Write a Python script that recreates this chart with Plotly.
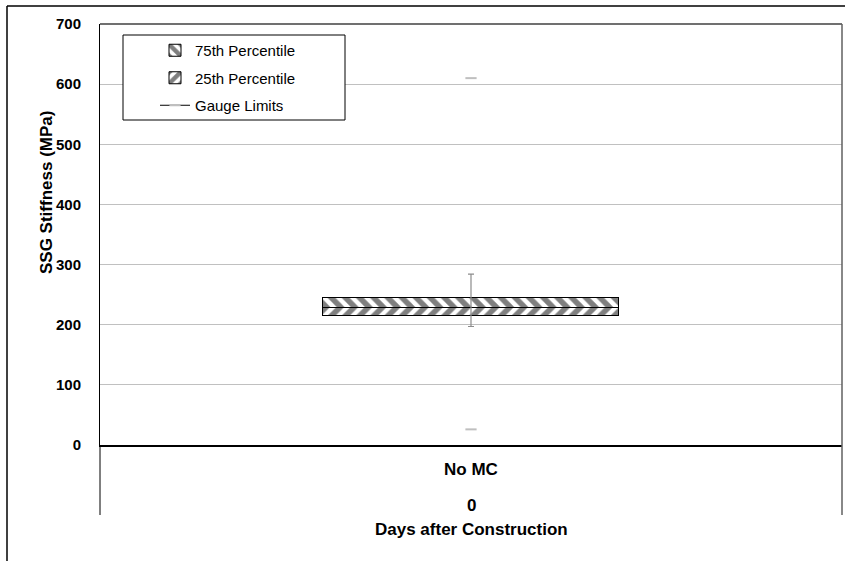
import plotly.graph_objects as go

# ---- data ----
categories = ["No MC"]
group_labels = ["0"]
p25 = [215]      # 25th percentile (MPa)
median = [228]   # median (MPa)
p75 = [244]      # 75th percentile (MPa)
min_vals = [197]
max_vals = [284]
gauge_limits = [26, 610]
y_ticks = [0, 100, 200, 300, 400, 500, 600, 700]

W, H = 845, 561
L, R, T, B = 100, 842, 24, 445


def px_x(px):
    return (px - L) / (R - L)


def px_y(py):
    return (B - py) / (B - T)


FONT = "Liberation Sans, Arial, sans-serif"

fig = go.Figure()

# invisible base up to 25th percentile
fig.add_trace(go.Bar(
    x=categories, y=p25,
    marker=dict(color="rgba(0,0,0,0)", line=dict(width=0, color="rgba(0,0,0,0)")),
    showlegend=False, hoverinfo="skip", width=0.4,
))
fig.add_trace(go.Bar(
    x=categories, y=[m - q for m, q in zip(median, p25)],
    name="25th Percentile", legendrank=2, legendgroup="b", width=0.4,
    marker=dict(color="white", line=dict(color="black", width=1),
                pattern=dict(shape="/", fgcolor="black", bgcolor="white",
                             size=10, solidity=0.55)),
))
fig.add_trace(go.Bar(
    x=categories, y=[q - m for q, m in zip(p75, median)],
    name="75th Percentile", legendrank=1, legendgroup="a", width=0.4,
    marker=dict(color="white", line=dict(color="black", width=1),
                pattern=dict(shape="\\", fgcolor="black", bgcolor="white",
                             size=10, solidity=0.55)),
))
# min / max whiskers
fig.add_trace(go.Scatter(
    x=categories, y=median, mode="markers",
    marker=dict(opacity=0, size=1),
    error_y=dict(type="data", symmetric=False,
                 array=[mx - m for mx, m in zip(max_vals, median)],
                 arrayminus=[m - mn for m, mn in zip(median, min_vals)],
                 color="#8c8c8c", thickness=1.2, width=3),
    showlegend=False, hoverinfo="skip",
))
# gauge limits
fig.add_trace(go.Scatter(
    x=[categories[0]] * 3, y=[gauge_limits[0], None, gauge_limits[1]],
    mode="lines+markers", name="Gauge Limits", legendrank=3, legendgroup="c",
    connectgaps=False,
    line=dict(color="black", width=1),
    marker=dict(symbol="line-ew", size=8, color="#bfbfbf",
                line=dict(color="#bfbfbf", width=2)),
))

shapes = [
    # outer chart border (top & left)
    dict(type="line", xref="paper", yref="paper", x0=px_x(7), x1=px_x(850),
         y0=px_y(6), y1=px_y(6), line=dict(color="black", width=1.5)),
    dict(type="line", xref="paper", yref="paper", x0=px_x(7), x1=px_x(7),
         y0=px_y(6), y1=px_y(570), line=dict(color="black", width=1.5)),
    # plot area top and right border
    dict(type="line", xref="paper", yref="paper", x0=0, x1=1, y0=1, y1=1,
         line=dict(color="#404040", width=1.5)),
    dict(type="line", xref="paper", yref="paper", x0=1, x1=1, y0=1,
         y1=px_y(515), line=dict(color="#606060", width=1.5)),
    # left category divider
    dict(type="line", xref="paper", yref="paper", x0=0, x1=0, y0=0,
         y1=px_y(515), line=dict(color="black", width=1)),
    # legend box
    dict(type="rect", xref="paper", yref="paper", x0=px_x(123), x1=px_x(345),
         y0=px_y(35), y1=px_y(120), line=dict(color="black", width=1),
         fillcolor="white", layer="above"),
]

annotations = [
    dict(text="SSG Stiffness (MPa)", xref="paper", yref="paper",
         x=px_x(46), y=px_y(192), textangle=-90, showarrow=False,
         xanchor="center", yanchor="middle",
         font=dict(family=FONT, size=17, color="black", weight="bold")),
    dict(text=categories[0], xref="paper", yref="paper",
         x=px_x(471), y=px_y(469), showarrow=False,
         xanchor="center", yanchor="middle",
         font=dict(family=FONT, size=17, color="black", weight="bold")),
    dict(text=group_labels[0], xref="paper", yref="paper",
         x=px_x(471), y=px_y(505), showarrow=False,
         xanchor="center", yanchor="middle",
         font=dict(family=FONT, size=17, color="black", weight="bold")),
    dict(text="Days after Construction", xref="paper", yref="paper",
         x=px_x(471), y=px_y(529), showarrow=False,
         xanchor="center", yanchor="middle",
         font=dict(family=FONT, size=17, color="black", weight="bold")),
]

fig.update_layout(
    width=W, height=H, autosize=False,
    margin=dict(l=L, r=W - R, t=T, b=H - B, pad=0),
    paper_bgcolor="white", plot_bgcolor="white",
    barmode="stack", bargap=0,
    font=dict(family=FONT, color="black"),
    showlegend=True,
    legend=dict(x=px_x(155), y=px_y(34), xanchor="left", yanchor="top",
                bgcolor="rgba(0,0,0,0)", borderwidth=0,
                font=dict(family=FONT, size=15, color="black"),
                tracegroupgap=5, itemwidth=30),
    shapes=shapes,
    annotations=annotations,
    xaxis=dict(type="category", range=[-0.5, 0.5], showticklabels=False,
               showgrid=False, zeroline=False, ticks="",
               showline=True, linecolor="black", linewidth=2),
    yaxis=dict(range=[0, 700], tickvals=y_ticks, showgrid=True,
               gridcolor="#c0c0c0", gridwidth=1, zeroline=False,
               showline=True, linecolor="black", linewidth=1, ticks="",
               ticklabelstandoff=15,
               tickfont=dict(family=FONT, size=15, color="black", weight="bold")),
)

fig.write_html("out.html",
               config={"displayModeBar": False},
               post_script="document.body.style.margin='0';document.body.style.padding='0';")
